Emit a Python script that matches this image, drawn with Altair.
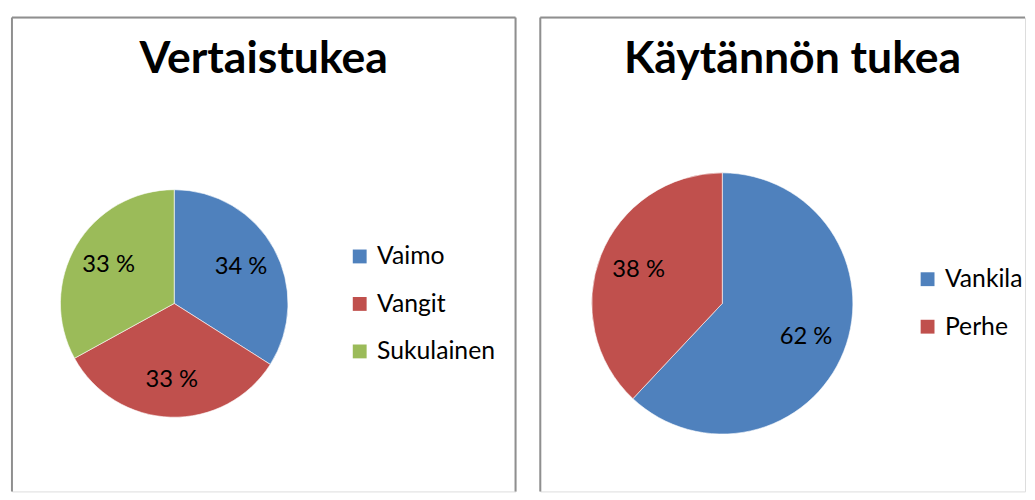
import altair as alt
import pandas as pd

# ---- data ----
left_title = "Vertaistukea"
left_categories = ["Vaimo", "Vangit", "Sukulainen"]
left_values = [34, 33, 33]
left_labels = ["34 %", "33 %", "33 %"]
left_colors = ["#4F81BD", "#C0504D", "#9BBB59"]

right_title = "Käytännön tukea"
right_categories = ["Vankila", "Perhe"]
right_values = [62, 38]
right_labels = ["62 %", "38 %"]
right_colors = ["#4F81BD", "#C0504D"]

FONT = "Lato"
BORDER = "#8f8f8f"
H = 479


def panel(title, cats, vals, labels, colors, W, tx, cx, cy, r, label_r, lx, ly, right_edge):
    df = pd.DataFrame({"cat": cats, "value": vals, "label": labels, "idx": list(range(len(cats)))})
    base = alt.Chart(df)
    theta = alt.Theta("value:Q", stack=True)
    order = alt.Order("idx:Q", sort="ascending")
    arcs = base.mark_arc(outerRadius=r, stroke="white", strokeWidth=0.6).encode(
        theta=theta,
        order=order,
        x=alt.value(cx),
        y=alt.value(cy),
        color=alt.Color(
            "cat:N",
            scale=alt.Scale(domain=cats, range=colors),
            sort=cats,
            legend=alt.Legend(
                title=None,
                orient="none",
                legendX=lx,
                legendY=ly,
                direction="vertical",
                symbolType="square",
                symbolSize=196,
                symbolStrokeWidth=0,
                labelFont=FONT,
                labelFontSize=25,
                labelColor="black",
                labelOffset=5,
                rowPadding=22,
                padding=0,
                offset=0,
            ),
        ),
    )
    texts = base.mark_text(radius=label_r, font=FONT, fontSize=24, color="black").encode(
        theta=theta,
        order=order,
        x=alt.value(cx),
        y=alt.value(cy),
        text="label:N",
    )
    one = alt.Chart(pd.DataFrame({"t": [title]}))
    ttl = one.mark_text(font=FONT, fontSize=45, fontWeight="bold", color="black",
                        align="center", baseline="alphabetic").encode(
        x=alt.value(tx), y=alt.value(56), text="t:N"
    )
    layers = [arcs, texts, ttl]
    # borders (no bottom edge visible in the reference)
    layers.append(one.mark_rule(color=BORDER, strokeWidth=2).encode(
        x=alt.value(0), y=alt.value(0), y2=alt.value(H)))
    layers.append(one.mark_rule(color=BORDER, strokeWidth=2).encode(
        x=alt.value(0), x2=alt.value(W), y=alt.value(0)))
    if right_edge:
        layers.append(one.mark_rule(color=BORDER, strokeWidth=2).encode(
            x=alt.value(W), y=alt.value(0), y2=alt.value(H)))
    return alt.layer(*layers).properties(width=W, height=H)


left = panel(left_title, left_categories, left_values, left_labels, left_colors,
             509, 254.5, 164, 289, 115, 77, 339, 229, True)
right = panel(right_title, right_categories, right_values, right_labels, right_colors,
              490, 255, 184, 289, 132, 91, 379, 252, False)

chart = alt.hconcat(left, right, spacing=21).resolve_scale(color="independent").resolve_legend(
    color="independent"
).properties(
    padding={"left": 2, "top": 5, "right": 0, "bottom": 0}
).configure_view(stroke=None).configure(background="white")

chart.save("out.html", embed_options={"renderer": "svg", "actions": False})
